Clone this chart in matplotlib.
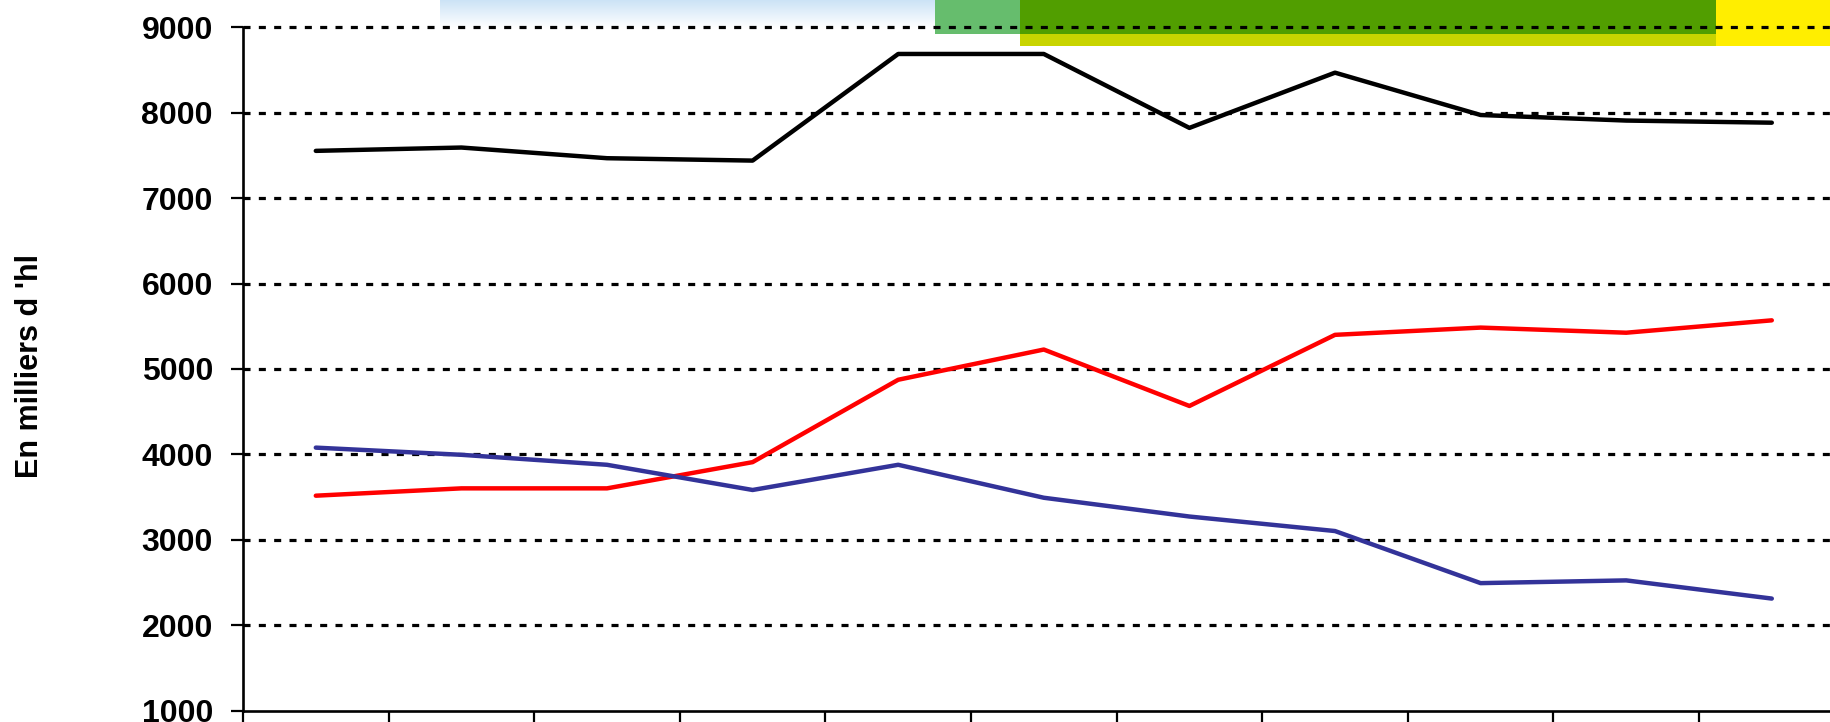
import numpy as np
import matplotlib
matplotlib.use("Agg")
import matplotlib.pyplot as plt
from matplotlib.patches import Rectangle

# ---- data ----
x_pos = list(range(11))
total = [7555, 7594, 7469, 7441, 8690, 8690, 7824, 8471, 7975, 7910, 7885]
red_series = [3516, 3602, 3602, 3909, 4874, 5228, 4567, 5400, 5485, 5425, 5570]
blue_series = [4079, 3995, 3878, 3583, 3878, 3492, 3272, 3102, 2492, 2524, 2311]
y_ticks = [1000, 2000, 3000, 4000, 5000, 6000, 7000, 8000, 9000]
y_label = "En milliers d 'hl"

W, H = 1830, 722
fig = plt.figure(figsize=(W / 100, H / 100), dpi=100)
plt.rcParams['font.family'] = ['Liberation Sans', 'DejaVu Sans']

# background decoration (coloured banner at top), pixel coordinates
bg = fig.add_axes([0, 0, 1, 1], zorder=-1)
bg.set_xlim(0, W)
bg.set_ylim(H, 0)
bg.axis('off')
grad = np.linspace(0, 1, 64).reshape(-1, 1)
top = np.array([0.80, 0.89, 0.965])
img = top[None, None, :] * (1 - grad[:, :, None]) + np.ones(3)[None, None, :] * grad[:, :, None]
bg.imshow(img, extent=[440, 935, 28, 0], aspect='auto', interpolation='bilinear')
bg.add_patch(Rectangle((935, 0), 85, 34, color='#66bd6d', lw=0))
bg.add_patch(Rectangle((1020, 0), 696, 34, color='#519e00', lw=0))
bg.add_patch(Rectangle((1020, 34), 696, 12, color='#c8d400', lw=0))
bg.add_patch(Rectangle((1716, 0), 120, 46, color='#ffee00', lw=0))
bg.set_xlim(0, W)
bg.set_ylim(H, 0)

# main axes
left_px, right_px = 243, 243 + 12 * 145.6
top_px, bot_px = 27.5, 710.5
ax = fig.add_axes([left_px / W, (H - bot_px) / H, (right_px - left_px) / W, (bot_px - top_px) / H])
ax.set_facecolor('none')

lw = 3.2
ax.plot(x_pos, total, color='black', lw=lw, solid_capstyle='round', solid_joinstyle='round', zorder=5)
ax.plot(x_pos, red_series, color='#ff0000', lw=lw, solid_capstyle='round', solid_joinstyle='round', zorder=5)
ax.plot(x_pos, blue_series, color='#333399', lw=lw, solid_capstyle='round', solid_joinstyle='round', zorder=5)

ax.set_xlim(-0.5, 11.5)
ax.set_ylim(1000, 9000)
ax.set_yticks(y_ticks)
ax.set_yticklabels([str(v) for v in y_ticks], fontsize=23, fontweight='bold')
ax.set_xticks(np.arange(-0.5, 12, 1))
ax.set_xticklabels([])

for v in y_ticks[1:]:
    ax.axhline(v, color='black', lw=2.3, linestyle=(0, (2.2, 2.6)), zorder=2, clip_on=False)

for s in ['top', 'right']:
    ax.spines[s].set_visible(False)
for s in ['left', 'bottom']:
    ax.spines[s].set_linewidth(1.9)
ax.tick_params(axis='both', direction='out', length=8.6, width=1.6, colors='black')
ax.tick_params(axis='y', pad=13)

fig.text(30 / W, 1 - 366 / H, y_label, rotation=90, ha='center', va='center',
         fontsize=22, fontweight='bold')

fig.savefig('out.png', dpi=100)
